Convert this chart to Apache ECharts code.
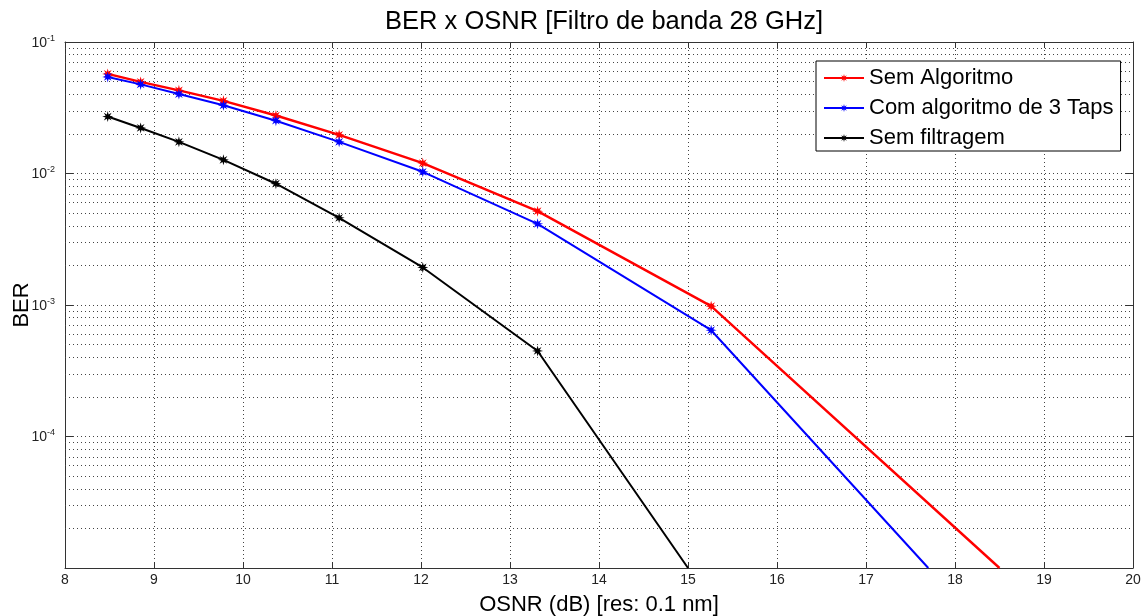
<!DOCTYPE html>
<html>
<head>
<meta charset="utf-8">
<script src="https://cdn.jsdelivr.net/npm/echarts@6/dist/echarts.min.js"></script>
<style>
  html, body { margin: 0; padding: 0; background: #fff; }
  #chart { width: 1147px; height: 616px; }
</style>
</head>
<body>
<div id="chart"></div>
<script>
// OSNR (dB) of the measured points
const osnr = [8.48, 8.85, 9.28, 9.78, 10.37, 11.08, 12.02, 13.31, 15.26]
// BER per curve
const semAlgoritmo = [0.0572, 0.0497, 0.0429, 0.0357, 0.0276, 0.0197, 0.0120, 0.00517, 0.00098]
const comAlgoritmo = [0.0542, 0.0476, 0.0402, 0.0330, 0.0252, 0.0174, 0.0103, 0.00414, 0.000643]
const semFiltragem = [0.0271, 0.0222, 0.0174, 0.0127, 0.00836, 0.0046, 0.00193, 0.000447]
// where each curve leaves the plot at the bottom (BER = 1e-5)
const exitOsnr = { sem: 18.5, com: 17.7, filt: 15.0 }
const berFloor = 1e-5

const minorFactors = [2, 3, 4, 5, 6, 7, 8, 9]
const decades = [1e-5, 1e-4, 1e-3, 1e-2]

const FONT = 'Liberation Sans, Arial, sans-serif'
const TICK_FONT = 'Liberation Sans Narrow, Liberation Sans, Arial, sans-serif'

// MATLAB-like asterisk marker
const star = (() => {
  let d = ''
  for (let i = 0; i < 16; i++) {
    const r = i % 2 === 0 ? 1 : 0.42
    const a = Math.PI * i / 8 - Math.PI / 2
    d += (i === 0 ? 'M' : 'L') + (r * Math.cos(a)).toFixed(3) + ',' + (r * Math.sin(a)).toFixed(3)
  }
  return 'path://' + d + 'Z'
})()

const toData = (ys, exitX) => {
  const pts = ys.map((y, i) => [osnr[i], y])
  pts.push({ value: [exitX, berFloor], symbol: 'none' })
  return pts
}

// minor grid (2..9 x each decade)
const minorLines = []
decades.forEach(d => minorFactors.forEach(f => minorLines.push({ yAxis: d * f })))

const gridLine = { color: '#444', type: [1, 3], width: 1 }

const chart = echarts.init(document.getElementById('chart'))
chart.setOption({
  animation: false,
  backgroundColor: '#fff',
  textStyle: { fontFamily: FONT },
  title: {
    text: 'BER x OSNR [Filtro de banda 28 GHz]',
    left: 599,
    top: 4,
    textAlign: 'center',
    textStyle: { fontFamily: FONT, fontSize: 25.5, fontWeight: 'normal', color: '#000' }
  },
  legend: {
    orient: 'vertical',
    left: 816,
    top: 61,
    padding: [6, 7, 2, 7],
    itemGap: 8,
    itemWidth: 40,
    itemHeight: 10,
    backgroundColor: '#fff',
    borderColor: '#000',
    borderWidth: 1,
    borderRadius: 0,
    textStyle: { fontFamily: FONT, fontSize: 22, color: '#000', lineHeight: 22 },
    data: ['Sem Algoritmo', 'Com algoritmo de 3 Taps', 'Sem filtragem']
  },
  grid: { left: 65, right: 14, top: 42, bottom: 48, outerBoundsMode: 'none' },
  xAxis: [
    {
      type: 'value',
      min: 8,
      max: 20,
      interval: 1,
      name: 'OSNR (dB) [res: 0.1 nm]',
      nameLocation: 'middle',
      nameGap: 26,
      nameMoveOverlap: false,
      nameTextStyle: { fontFamily: FONT, fontSize: 22, color: '#000' },
      axisLine: { onZero: false, lineStyle: { color: '#333', width: 1 } },
      axisTick: { inside: true, length: 6, lineStyle: { color: '#333' } },
      axisLabel: { fontFamily: TICK_FONT, fontSize: 14, color: '#222', margin: 5 },
      splitLine: { show: true, lineStyle: gridLine }
    },
    {
      type: 'value',
      position: 'top',
      min: 8,
      max: 20,
      interval: 1,
      axisLine: { onZero: false, lineStyle: { color: '#333', width: 1 } },
      axisTick: { inside: true, length: 6, lineStyle: { color: '#333' } },
      axisLabel: { show: false },
      splitLine: { show: false }
    }
  ],
  yAxis: [
    {
      type: 'log',
      logBase: 10,
      min: 1e-5,
      max: 1e-1,
      name: 'BER',
      nameLocation: 'middle',
      nameGap: 32,
      nameMoveOverlap: false,
      nameTextStyle: { fontFamily: FONT, fontSize: 22, color: '#000' },
      axisLine: { onZero: false, lineStyle: { color: '#333', width: 1 } },
      axisTick: { inside: true, length: 8, lineStyle: { color: '#333' } },
      axisLabel: {
        margin: 10,
        formatter: v => {
          const e = Math.round(Math.log10(v))
          if (e === -5) return ''
          return '{b|10}{s|' + e + '}'
        },
        rich: {
          b: { fontFamily: TICK_FONT, fontSize: 14, color: '#222', lineHeight: 16, verticalAlign: 'bottom' },
          s: { fontFamily: TICK_FONT, fontSize: 9, color: '#222', lineHeight: 9, verticalAlign: 'top', padding: [0, 0, 8, 0] }
        }
      },
      splitLine: { show: true, lineStyle: gridLine }
    },
    {
      type: 'log',
      logBase: 10,
      min: 1e-5,
      max: 1e-1,
      position: 'right',
      axisLine: { onZero: false, lineStyle: { color: '#333', width: 1 } },
      axisTick: { inside: true, length: 8, lineStyle: { color: '#333' } },
      axisLabel: { show: false },
      splitLine: { show: false }
    }
  ],
  series: [
    {
      name: 'Sem Algoritmo',
      type: 'line',
      data: toData(semAlgoritmo, exitOsnr.sem),
      symbol: star,
      symbolSize: 11,
      color: '#ff0000',
      lineStyle: { width: 2.4, color: '#ff0000' },
      itemStyle: { color: '#ff0000' },
      z: 3,
      markLine: {
        silent: true,
        symbol: 'none',
        precision: 12,
        label: { show: false },
        lineStyle: gridLine,
        z: 1,
        data: minorLines
      }
    },
    {
      name: 'Com algoritmo de 3 Taps',
      type: 'line',
      data: toData(comAlgoritmo, exitOsnr.com),
      symbol: star,
      symbolSize: 11,
      color: '#0000ff',
      lineStyle: { width: 2, color: '#0000ff' },
      itemStyle: { color: '#0000ff' },
      z: 4
    },
    {
      name: 'Sem filtragem',
      type: 'line',
      data: toData(semFiltragem, exitOsnr.filt),
      symbol: star,
      symbolSize: 11,
      color: '#000000',
      lineStyle: { width: 2, color: '#000000' },
      itemStyle: { color: '#000000' },
      z: 5
    }
  ]
})
</script>
</body>
</html>
